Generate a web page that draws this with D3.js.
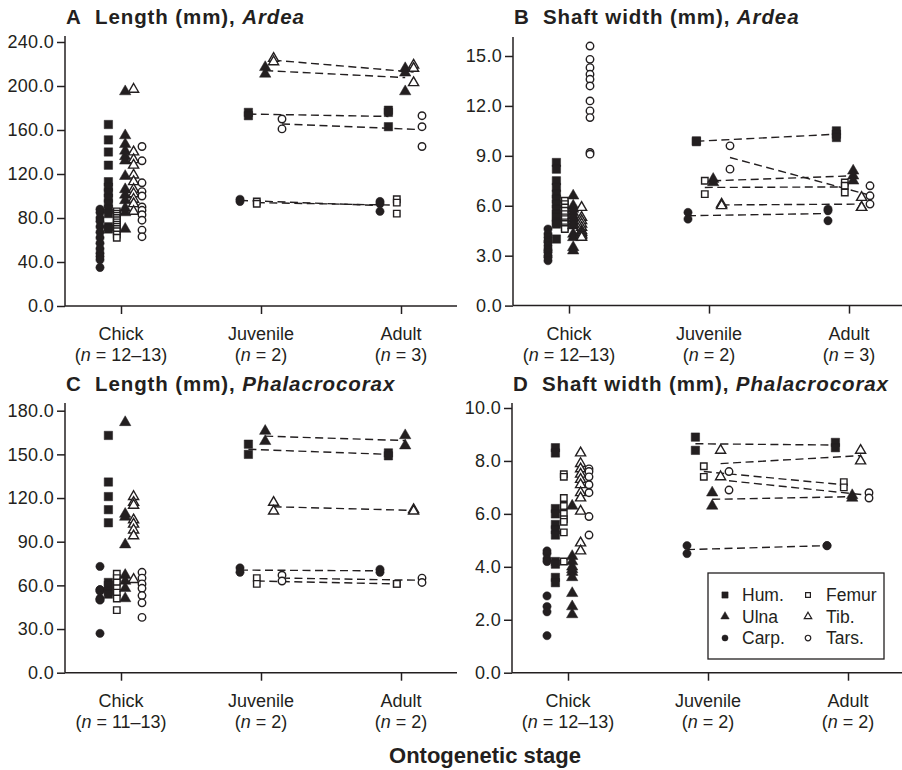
<!DOCTYPE html>
<html>
<head>
<meta charset="utf-8">
<script src="https://cdn.jsdelivr.net/npm/d3@7"></script>
<style>
  body { margin: 0; background: #fff; }
  text { font-family: "Liberation Sans", Arial, Helvetica, sans-serif; fill: #231f20; }
</style>
</head>
<body>
<div id="chart"></div>
<script>
const stages = ["Chick", "Juvenile", "Adult"];
const bones = ["Carp.", "Hum.", "Femur", "Ulna", "Tib.", "Tars."];

// each bone: [chick values, juvenile values, adult values]
// A: length (mm), Ardea
const ardeaLenHum  = [[165, 151, 140, 128, 113, 108, 103, 98, 93, 88, 84, 72, 70], [176, 173], [178, 176, 163]];
const ardeaLenUlna = [[195, 155, 147, 141, 136, 132, 118, 106, 101, 96, 89, 85, 70], [217, 211], [216, 212, 195]];
const ardeaLenCarp = [[88, 85, 80, 77, 72, 67, 62, 57, 52, 48, 45, 42, 35], [97, 95], [95, 93, 86]];
const ardeaLenFem  = [[86, 84, 82, 80, 78, 76, 74, 72, 70, 68, 65, 62], [95, 93], [97, 94, 84]];
const ardeaLenTib  = [[197, 140, 133, 128, 119, 113, 106, 102, 97, 93, 86], [225, 222], [219, 216, 203]];
const ardeaLenTars = [[145, 132, 112, 104, 100, 90, 87, 83, 78, 69, 63], [170, 161], [173, 163, 145]];
const ardeaLenTicks = [0, 40, 80, 120, 160, 200, 240];
const ardeaLenN = ["12–13", "2", "3"];

// B: shaft width (mm), Ardea
const ardeaWidHum  = [[8.6, 8.2, 7.5, 7.1, 6.7, 6.4, 6.1, 5.8, 5.5, 5.3, 5.0, 4.9, 4.0], [9.9, 9.85], [10.5, 10.3, 10.1]];
const ardeaWidUlna = [[6.6, 6.0, 5.8, 5.6, 5.4, 5.2, 5.0, 4.8, 4.3, 4.1, 3.5, 3.3], [7.6, 7.4], [8.1, 7.8, 7.5]];
const ardeaWidCarp = [[4.6, 4.3, 4.1, 3.9, 3.8, 3.6, 3.4, 3.3, 3.2, 3.0, 2.9, 2.7], [5.6, 5.2], [5.8, 5.7, 5.1]];
const ardeaWidFem  = [[6.3, 6.1, 5.9, 5.7, 5.5, 5.3, 5.2, 5.0, 4.9, 4.7, 4.6], [7.5, 6.7], [7.4, 7.2, 6.8]];
const ardeaWidTib  = [[5.9, 5.3, 5.1, 4.9, 4.7, 4.5, 4.4, 4.3, 4.2, 4.1], [6.1, 6.0], [6.5, 5.9, 5.9]];
const ardeaWidTars = [[15.6, 14.8, 14.3, 13.9, 13.6, 13.2, 12.3, 11.7, 11.3, 9.2, 9.1], [9.6, 8.2], [7.2, 6.6, 6.1]];
const ardeaWidTicks = [0, 3, 6, 9, 12, 15];
const ardeaWidN = ["12–13", "2", "3"];

// C: length (mm), Phalacrocorax
const phalLenHum  = [[163, 131, 121, 112, 103, 62, 60, 56, 54], [157, 150], [151, 149]];
const phalLenUlna = [[172, 109, 107, 88, 67, 63, 58, 51], [166, 159], [163, 156]];
const phalLenCarp = [[73, 57, 57, 56, 51, 50, 50, 27], [72, 69], [71, 69]];
const phalLenFem  = [[68, 65, 62, 58, 55, 51, 43], [65, 61], [61, 61]];
const phalLenTib  = [[121, 117, 115, 105, 102, 98, 94, 64], [117, 111], [112, 111]];
const phalLenTars = [[69, 65, 61, 58, 53, 48, 38], [67, 63], [65, 62]];
const phalLenTicks = [0, 30, 60, 90, 120, 150, 180];
const phalLenN = ["11–13", "2", "2"];

// D: shaft width (mm), Phalacrocorax
const phalWidHum  = [[8.5, 8.3, 6.2, 6.0, 5.6, 5.4, 5.2, 4.2, 4.1, 3.6, 3.4], [8.9, 8.4], [8.7, 8.5]];
const phalWidUlna = [[6.3, 4.4, 4.2, 4.0, 3.9, 3.8, 3.6, 3.0, 2.5, 2.2], [6.8, 6.3], [6.7, 6.6]];
const phalWidCarp = [[4.6, 4.5, 4.3, 4.2, 2.9, 2.5, 2.3, 1.4], [4.8, 4.5], [4.8, 4.8]];
const phalWidFem  = [[7.5, 7.4, 6.6, 6.3, 6.0, 5.8, 5.7, 5.3, 4.2], [7.8, 7.4], [7.2, 7.0]];
const phalWidTib  = [[8.3, 7.9, 7.7, 7.5, 7.3, 7.1, 6.8, 6.6, 6.1, 4.9, 4.6], [8.4, 7.4], [8.4, 8.0]];
const phalWidTars = [[7.7, 7.6, 7.4, 7.1, 6.8, 5.9, 5.2], [7.6, 6.9], [6.8, 6.6]];
const phalWidTicks = [0, 2, 4, 6, 8, 10];
const phalWidN = ["12–13", "2", "2"];

const panels = [
  {letter: "A", title: "Length (mm), ", genus: "Ardea", ticks: ardeaLenTicks, n: ardeaLenN,
   data: {"Hum.": ardeaLenHum, "Ulna": ardeaLenUlna, "Carp.": ardeaLenCarp, "Femur": ardeaLenFem, "Tib.": ardeaLenTib, "Tars.": ardeaLenTars}},
  {letter: "B", title: "Shaft width (mm), ", genus: "Ardea", ticks: ardeaWidTicks, n: ardeaWidN,
   data: {"Hum.": ardeaWidHum, "Ulna": ardeaWidUlna, "Carp.": ardeaWidCarp, "Femur": ardeaWidFem, "Tib.": ardeaWidTib, "Tars.": ardeaWidTars}},
  {letter: "C", title: "Length (mm), ", genus: "Phalacrocorax", ticks: phalLenTicks, n: phalLenN,
   data: {"Hum.": phalLenHum, "Ulna": phalLenUlna, "Carp.": phalLenCarp, "Femur": phalLenFem, "Tib.": phalLenTib, "Tars.": phalLenTars}},
  {letter: "D", title: "Shaft width (mm), ", genus: "Phalacrocorax", ticks: phalWidTicks, n: phalWidN,
   data: {"Hum.": phalWidHum, "Ulna": phalWidUlna, "Carp.": phalWidCarp, "Femur": phalWidFem, "Tib.": phalWidTib, "Tars.": phalWidTars}}
];

// where each panel sits: y-axis x, y of zero, y of top tick, top of axis line, title baseline
const layout = [
  {left: 65,  zero: 306,   topTick: 42,    axisTop: 36,  titleY: 24},
  {left: 513, zero: 305.6, topTick: 56,    axisTop: 37,  titleY: 24},
  {left: 65,  zero: 672.7, topTick: 410.7, axisTop: 403, titleY: 391},
  {left: 512, zero: 672.7, topTick: 408,   axisTop: 403, titleY: 391}
];

const ink = "#231f20";
const axisWidth = 392;

const markers = {
  "Hum.":  {type: d3.symbolSquare,   size: 70, filled: true},
  "Ulna":  {type: d3.symbolTriangle, size: 56, filled: true},
  "Carp.": {type: d3.symbolCircle,   size: 54, filled: true},
  "Femur": {type: d3.symbolSquare,   size: 42, filled: false},
  "Tib.":  {type: d3.symbolTriangle, size: 44, filled: false},
  "Tars.": {type: d3.symbolCircle,   size: 44, filled: false}
};

const svg = d3.select("#chart")
              .append("svg")
              .attr("width", 902)
              .attr("height", 770);

const x = d3.scalePoint().domain(stages).range([56, 336]);
const offset = d3.scalePoint().domain(bones).range([-21, 21]);

panels.forEach((p, i) => {
    const L = layout[i];
    const g = svg.append("g").attr("transform", `translate(${L.left},0)`);

    const y = d3.scaleLinear()
                .domain([0, d3.max(p.ticks)])
                .range([L.zero, L.topTick]);

    // title
    g.append("text")
     .attr("x", 1)
     .attr("y", L.titleY)
     .attr("font-size", 20.5)
     .attr("font-weight", "bold")
     .text(p.letter);
    const title = g.append("text")
                   .attr("x", 30)
                   .attr("y", L.titleY)
                   .attr("font-size", 20.5)
                   .attr("font-weight", "bold")
                   .attr("letter-spacing", 0.9);
    title.append("tspan").text(p.title);
    title.append("tspan").attr("font-style", "italic").text(p.genus);

    // y axis
    const yAxis = g.append("g")
                   .call(d3.axisLeft(y)
                           .tickValues(p.ticks)
                           .tickFormat(d3.format(".1f"))
                           .tickSize(8)
                           .tickPadding(3));
    yAxis.select(".domain").remove();
    yAxis.attr("font-family", null).attr("font-size", null);
    yAxis.selectAll("line").attr("stroke", ink).attr("stroke-width", 1.5);
    yAxis.selectAll("text").attr("font-size", 18).attr("letter-spacing", 0.3);

    // x axis
    const xAxis = g.append("g")
                   .attr("transform", `translate(0,${L.zero})`)
                   .call(d3.axisBottom(x).tickSize(8).tickFormat(""));
    xAxis.select(".domain").remove();
    xAxis.selectAll("line").attr("stroke", ink).attr("stroke-width", 1.5);

    g.append("line")
     .attr("x1", 0).attr("x2", 0)
     .attr("y1", L.axisTop).attr("y2", L.zero)
     .attr("stroke", ink).attr("stroke-width", 1.5);
    g.append("line")
     .attr("x1", 0).attr("x2", axisWidth)
     .attr("y1", L.zero).attr("y2", L.zero)
     .attr("stroke", ink).attr("stroke-width", 1.5);

    stages.forEach((s, k) => {
        g.append("text")
         .attr("x", x(s))
         .attr("y", L.zero + 34)
         .attr("text-anchor", "middle")
         .attr("font-size", 18)
         .text(s);
        const t = g.append("text")
                   .attr("x", x(s))
                   .attr("y", L.zero + 55)
                   .attr("text-anchor", "middle")
                   .attr("font-size", 18);
        t.append("tspan").text("(");
        t.append("tspan").attr("font-style", "italic").text("n");
        t.append("tspan").text(` = ${p.n[k]})`);
    });

    // dashed lines joining juvenile and adult means
    bones.forEach(b => {
        const vals = p.data[b];
        g.append("line")
         .attr("x1", x("Juvenile") + offset(b))
         .attr("y1", y(d3.mean(vals[1])))
         .attr("x2", x("Adult") + offset(b))
         .attr("y2", y(d3.mean(vals[2])))
         .attr("stroke", ink)
         .attr("stroke-width", 1.4)
         .attr("stroke-dasharray", "8,4.5");
    });

    // points
    bones.forEach(b => {
        const m = markers[b];
        const pts = [];
        p.data[b].forEach((vals, k) => vals.forEach(v => pts.push({stage: stages[k], v})));
        g.selectAll(null)
         .data(pts)
         .enter()
         .append("path")
         .attr("d", d3.symbol().type(m.type).size(m.size))
         .attr("transform", d => `translate(${x(d.stage) + offset(b)},${y(d.v)})`)
         .attr("fill", m.filled ? ink : "#fff")
         .attr("stroke", ink)
         .attr("stroke-width", m.filled ? 0.5 : 1.4);
    });
});

// legend in panel D
const legend = svg.append("g").attr("transform", "translate(708,573)");
legend.append("rect")
      .attr("width", 176)
      .attr("height", 86)
      .attr("fill", "#fff")
      .attr("stroke", ink)
      .attr("stroke-width", 1.3);

const legendCols = [["Hum.", "Ulna", "Carp."], ["Femur", "Tib.", "Tars."]];
legendCols.forEach((col, c) => {
    col.forEach((b, r) => {
        const m = markers[b];
        legend.append("path")
              .attr("d", d3.symbol().type(m.type).size(m.size * 0.55))
              .attr("transform", `translate(${17 + c * 83},${22 + r * 21.5})`)
              .attr("fill", m.filled ? ink : "#fff")
              .attr("stroke", ink)
              .attr("stroke-width", m.filled ? 0.5 : 1.2);
        legend.append("text")
              .attr("x", 34 + c * 84)
              .attr("y", 22 + r * 21.5)
              .attr("dy", "0.35em")
              .attr("font-size", 17.5)
              .text(b);
    });
});

svg.append("text")
   .attr("x", 485)
   .attr("y", 763)
   .attr("text-anchor", "middle")
   .attr("font-size", 22)
   .attr("font-weight", "bold")
   .text("Ontogenetic stage");
</script>
</body>
</html>
